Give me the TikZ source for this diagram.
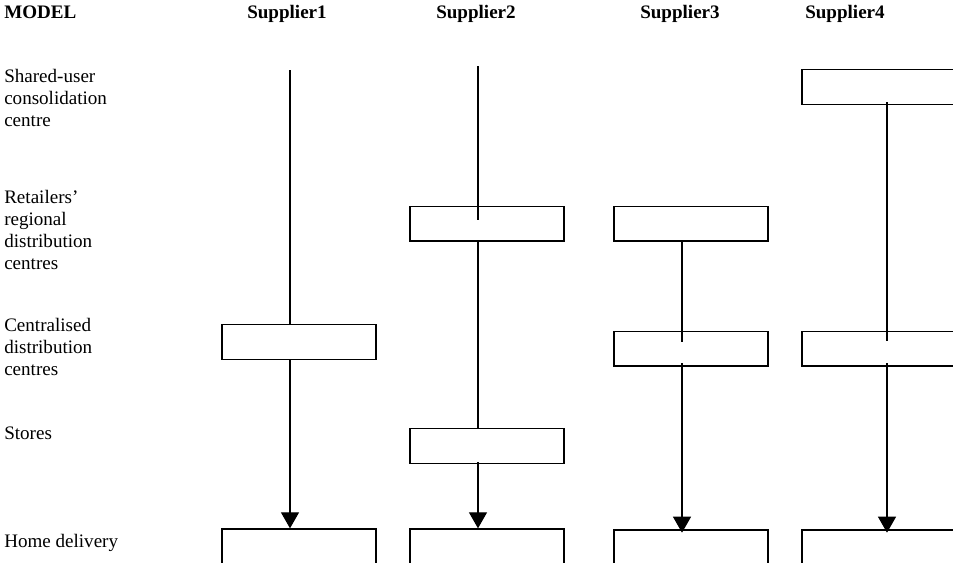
\documentclass[tikz,border=0pt]{standalone}
\usepackage{fontspec}
\setmainfont{Liberation Serif}
\usetikzlibrary{arrows.meta}
\begin{document}
\begin{tikzpicture}[x=0.75pt,y=-0.75pt,
  box/.style={draw,line width=1pt,inner sep=0pt,minimum width=115.5pt,minimum height=26pt},
  homebox/.style={box,minimum height=37.5pt},
  flow/.style={line width=0.9pt},
  arr/.style={flow,-{Triangle[length=12pt,width=13.5pt]}},
  lbl/.style={anchor=base west,inner sep=0pt,align=left,font=\fontsize{14.3pt}{16.5pt}\selectfont},
  head/.style={anchor=base west,inner sep=0pt,font=\fontsize{14.3pt}{16.5pt}\selectfont\bfseries}]
\useasboundingbox (0,0) rectangle (953,562);
\begin{scope}
\clip (0,0) rectangle (953,562);
% headers
\node[head] (hmodel) at (4,18) {MODEL};
\node[head] (hs1) at (247,18) {Supplier1};
\node[head] (hs2) at (436,18) {Supplier2};
\node[head] (hs3) at (640,18) {Supplier3};
\node[head] (hs4) at (805,18) {Supplier4};
% row labels (base anchor = baseline of last line)
\node[lbl] (lsucc) at (4,126) {Shared-user\\consolidation\\centre};
\node[lbl] (lrdc) at (4,269) {Retailers’\\regional\\distribution\\centres};
\node[lbl] (lcdc) at (4,375) {Centralised\\distribution\\centres};
\node[lbl] (lst) at (4,439) {Stores};
\node[lbl] (lhome) at (4,547) {Home delivery};
% boxes
\node[box] (s1cdc) at (299,342) {};
\node[homebox] (s1home) at (299,554) {};
\node[box] (s2rdc) at (487,223.5) {};
\node[box] (s2st) at (487,446) {};
\node[homebox] (s2home) at (487,554) {};
\node[box] (s3rdc) at (691,223.5) {};
\node[box] (s3cdc) at (691,348.5) {};
\node[homebox] (s3home) at (691,555) {};
\node[box] (s4succ) at (879,87) {};
\node[box] (s4cdc) at (879,348.5) {};
\node[homebox] (s4home) at (879,555) {};
% free ends and inner ends
\coordinate (s1top) at (290,70);
\coordinate (s2top) at (478,66);
\coordinate (s2in) at (478,220);
\coordinate (s2out) at (478,462);
\coordinate (s3in) at (682,342);
\coordinate (s3out) at (682,363);
\coordinate (s4out1) at (887,102);
\coordinate (s4in) at (887,341);
\coordinate (s4out2) at (887,363);
% Supplier1
\draw[flow] (s1top) -- (s1top |- s1cdc.north);
\draw[arr] (s1top |- s1cdc.south) -- (s1top |- s1home.north);
% Supplier2
\draw[flow] (s2top) -- (s2in);
\draw[flow] (s2top |- s2rdc.south) -- (s2top |- s2st.north);
\draw[arr] (s2out) -- (s2top |- s2home.north);
% Supplier3
\draw[flow] (s3in |- s3rdc.south) -- (s3in);
\draw[arr] (s3out) -- ([yshift=-2.5pt]s3out |- s3home.north);
% Supplier4
\draw[flow] (s4out1) -- (s4in);
\draw[arr] (s4out2) -- ([yshift=-2.5pt]s4out2 |- s4home.north);
\end{scope}
\end{tikzpicture}
\end{document}
